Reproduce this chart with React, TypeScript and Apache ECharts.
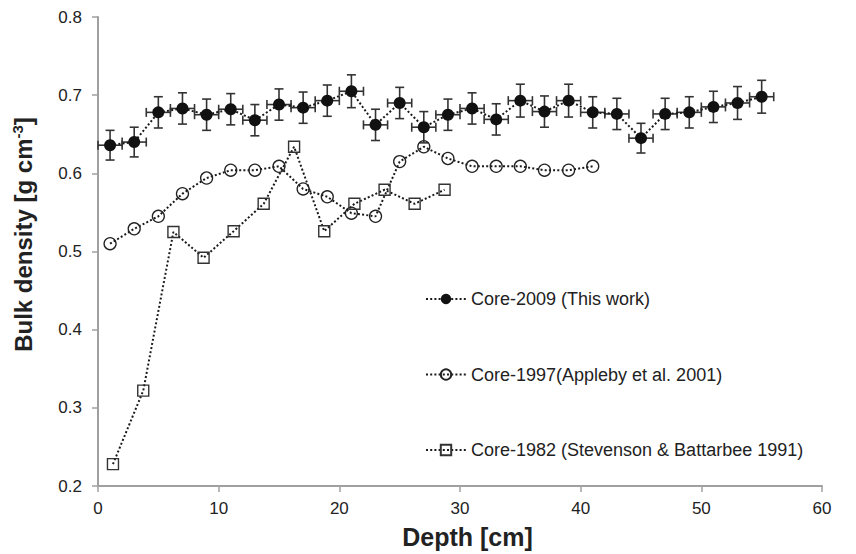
import React, { useEffect, useRef } from "react";
import * as echarts from "echarts";

const depth2009 = [1, 3, 5, 7, 9, 11, 13, 15, 17, 19, 21, 23, 25, 27, 29, 31, 33, 35, 37, 39, 41, 43, 45, 47, 49, 51, 53, 55];
const density2009 = [0.636, 0.640, 0.678, 0.683, 0.675, 0.682, 0.668, 0.688, 0.684, 0.693, 0.705, 0.662, 0.690, 0.659, 0.675, 0.683, 0.669, 0.693, 0.679, 0.693, 0.678, 0.676, 0.645, 0.676, 0.678, 0.685, 0.690, 0.698];
const depthErr2009 = [1, 1, 1, 1, 1, 1, 1, 1, 1, 1, 1, 1, 1, 1, 1, 1, 1, 1, 1, 1, 1, 1, 1, 1, 1, 1, 1, 1];
const densityErr2009 = [0.019, 0.019, 0.02, 0.02, 0.02, 0.02, 0.02, 0.02, 0.02, 0.02, 0.021, 0.02, 0.02, 0.02, 0.02, 0.02, 0.02, 0.021, 0.02, 0.021, 0.02, 0.02, 0.019, 0.02, 0.02, 0.02, 0.021, 0.021];

const depth1997 = [1, 3, 5, 7, 9, 11, 13, 15, 17, 19, 21, 23, 25, 27, 29, 31, 33, 35, 37, 39, 41];
const density1997 = [0.510, 0.529, 0.545, 0.574, 0.594, 0.604, 0.604, 0.609, 0.580, 0.570, 0.549, 0.545, 0.615, 0.634, 0.619, 0.609, 0.609, 0.609, 0.604, 0.604, 0.609];

const depth1982 = [1.24, 3.75, 6.25, 8.75, 11.24, 13.73, 16.25, 18.75, 21.25, 23.75, 26.24, 28.72];
const density1982 = [0.228, 0.322, 0.525, 0.492, 0.526, 0.561, 0.634, 0.526, 0.561, 0.579, 0.561, 0.579];

const seriesNames = ["Core-2009 (This work)", "Core-1997(Appleby et al. 2001)", "Core-1982 (Stevenson & Battarbee 1991)"];

const FONT = "Liberation Sans, Arial, Helvetica, sans-serif";
const dotted = { type: [2, 2.2] as number[], width: 2, color: "#1a1a1a" };

export default function App() {
  const ref = useRef<HTMLDivElement>(null);
  useEffect(() => {
    if (!ref.current) return;
    const chart = echarts.init(ref.current, undefined, { renderer: "svg" });
    const errData = depth2009.map((d, i) => [d, density2009[i], depthErr2009[i], densityErr2009[i]]);
    chart.setOption({
      animation: false,
      backgroundColor: "#ffffff",
      grid: { left: 98, right: 34, top: 17, bottom: 67 },
      legend: {
        orient: "vertical",
        left: 420,
        top: 285,
        itemWidth: 40,
        itemHeight: 13,
        itemGap: 57.5,
        data: seriesNames,
        textStyle: { fontSize: 18, color: "#222", fontFamily: FONT },
      },
      xAxis: {
        type: "value",
        min: 0,
        max: 60,
        interval: 10,
        name: "Depth [cm]",
        nameLocation: "middle",
        nameGap: 38,
        nameTextStyle: { fontSize: 25, fontWeight: "bold", color: "#222", fontFamily: FONT, padding: [0, 0, 0, 15] },
        splitLine: { show: false },
        axisLine: { lineStyle: { color: "#a0a0a0", width: 2 } },
        axisTick: { show: true, length: 6, lineStyle: { color: "#a0a0a0", width: 1.5 } },
        axisLabel: { fontSize: 17, color: "#222", fontFamily: FONT, margin: 14 },
      },
      yAxis: {
        type: "value",
        min: 0.2,
        max: 0.8,
        interval: 0.1,
        name: "{a|Bulk density [g cm}{b|-3}{a|]}",
        nameLocation: "middle",
        nameGap: 61,
        nameRotate: 90,
        nameTextStyle: {
          fontFamily: FONT,
          padding: [0, 0, 0, 34],
          rich: {
            a: { fontSize: 24, fontWeight: "bold", color: "#222", fontFamily: FONT },
            b: { fontSize: 15, fontWeight: "bold", color: "#222", fontFamily: FONT, verticalAlign: "top", padding: [0, 0, 12, 0] },
          },
        },
        splitLine: { show: false },
        axisLine: { show: true, lineStyle: { color: "#a0a0a0", width: 2 } },
        axisTick: { show: true, length: 6, lineStyle: { color: "#a0a0a0", width: 1.5 } },
        axisLabel: { fontSize: 17, color: "#222", fontFamily: FONT, margin: 16, formatter: (v: number) => v.toFixed(1) },
      },
      series: [
        {
          type: "custom",
          name: "err",
          z: 1,
          silent: true,
          data: errData,
          renderItem: (params: any, api: any) => {
            const x = api.value(0);
            const y = api.value(1);
            const ex = api.value(2);
            const ey = api.value(3);
            const c = api.coord([x, y]);
            const left = api.coord([x - ex, y]);
            const right = api.coord([x + ex, y]);
            const top = api.coord([x, y + ey]);
            const bot = api.coord([x, y - ey]);
            const cap = 4.5;
            const style = { stroke: "#333", lineWidth: 1.6 };
            return {
              type: "group",
              children: [
                { type: "line", shape: { x1: left[0], y1: c[1], x2: right[0], y2: c[1] }, style },
                { type: "line", shape: { x1: left[0], y1: c[1] - cap, x2: left[0], y2: c[1] + cap }, style },
                { type: "line", shape: { x1: right[0], y1: c[1] - cap, x2: right[0], y2: c[1] + cap }, style },
                { type: "line", shape: { x1: c[0], y1: top[1], x2: c[0], y2: bot[1] }, style },
                { type: "line", shape: { x1: c[0] - cap, y1: top[1], x2: c[0] + cap, y2: top[1] }, style },
                { type: "line", shape: { x1: c[0] - cap, y1: bot[1], x2: c[0] + cap, y2: bot[1] }, style },
              ],
            };
          },
        },
        {
          type: "line",
          name: seriesNames[0],
          z: 3,
          data: depth2009.map((d, i) => [d, density2009[i]]),
          symbol: "circle",
          symbolSize: 12,
          itemStyle: { color: "#111", borderColor: "#111", borderWidth: 0 },
          lineStyle: dotted,
        },
        {
          type: "line",
          name: seriesNames[1],
          z: 3,
          data: depth1997.map((d, i) => [d, density1997[i]]),
          symbol: "circle",
          symbolSize: 12,
          itemStyle: { color: "rgba(255,255,255,0)", borderColor: "#222", borderWidth: 1.3 },
          lineStyle: dotted,
        },
        {
          type: "line",
          name: seriesNames[2],
          z: 3,
          data: depth1982.map((d, i) => [d, density1982[i]]),
          symbol: "rect",
          symbolSize: 11,
          itemStyle: { color: "rgba(255,255,255,0)", borderColor: "#333", borderWidth: 1.4 },
          lineStyle: dotted,
        },
      ],
    });
    return () => chart.dispose();
  }, []);
  return <div ref={ref} style={{ width: 856, height: 554, position: "absolute", left: 0, top: 0 }} />;
}
